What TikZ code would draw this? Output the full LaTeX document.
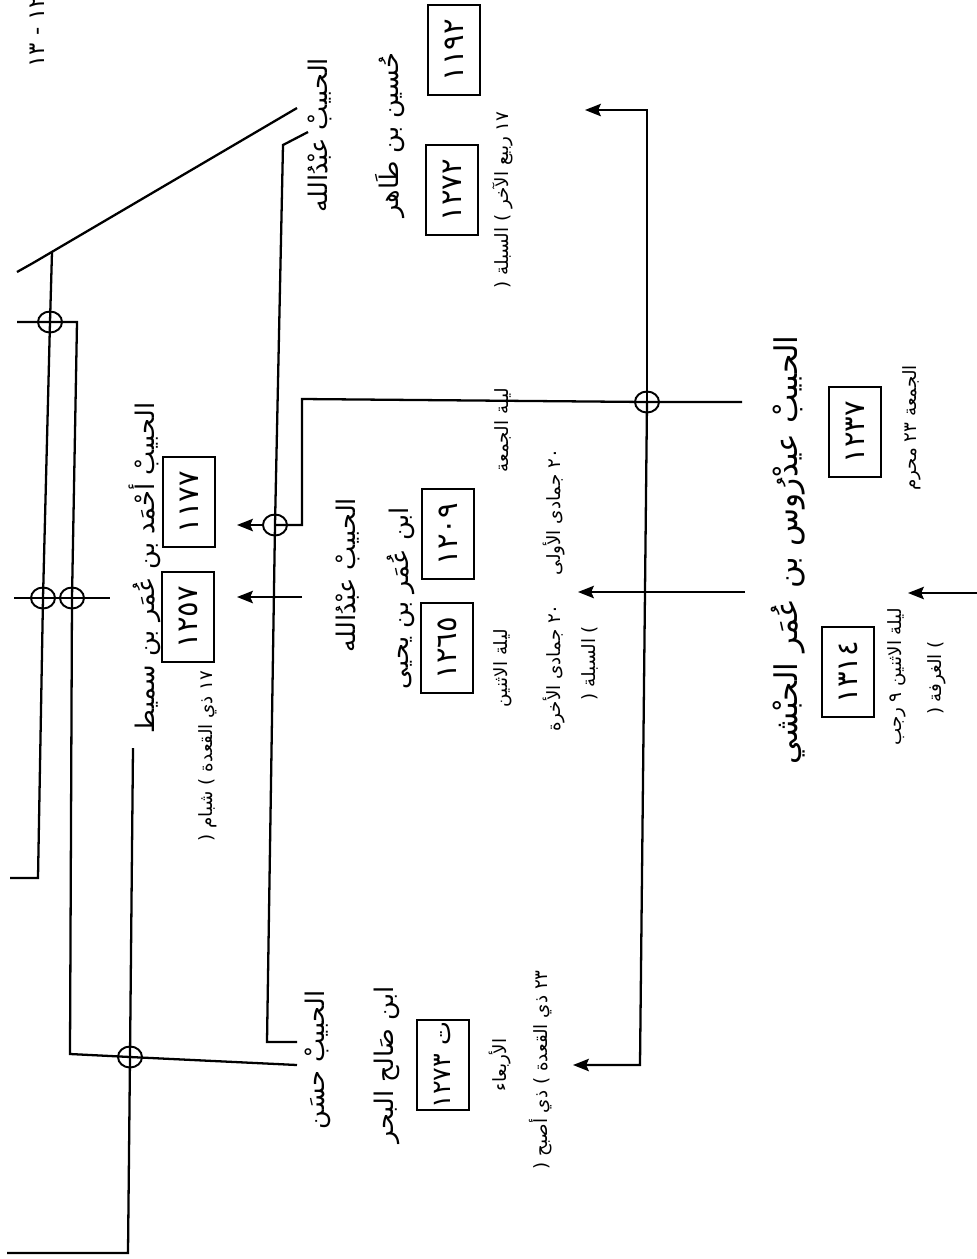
\documentclass[tikz,border=0pt]{standalone}
\usepackage{fontspec}
\newfontfamily\arabicfont[Script=Arabic]{DejaVu Sans}
\TeXXeTstate=1
\usetikzlibrary{arrows.meta,shapes.geometric}

\begin{document}
\begin{tikzpicture}[
    x=0.02cm, y=-0.02cm,
    tree/.style={line width=1.3pt, line join=miter},
    arrow/.style={tree, -{Stealth[length=9pt, width=7pt, inset=1.5pt]}},
    junc/.style={ellipse, draw, line width=1.1pt, minimum width=0.48cm,
                 minimum height=0.42cm, inner sep=0pt},
    person/.style={rotate=90, inner sep=0pt,
                 font=\arabicfont\fontsize{14.6}{16}\selectfont},
    bigperson/.style={rotate=90, inner sep=0pt,
                 font=\arabicfont\fontsize{17.8}{20}\selectfont},
    datelbl/.style={rotate=90, inner sep=0pt,
                 font=\arabicfont\fontsize{10.4}{12}\selectfont},
    yearbox/.style={rotate=90, draw, line width=1.3pt, minimum width=1.8cm,
                 minimum height=1.04cm, inner sep=0pt,
                 font=\arabicfont\fontsize{16.5}{18}\selectfont}
  ]
  \useasboundingbox (0,0) rectangle (977,1259);

  % ----- page mark -----
  \node[datelbl, anchor=west, font=\arabicfont\fontsize{13}{14}\selectfont]
    (page) at (37,68) {\beginR ١٢ - ١٣\endR};

  % ----- junctions -----
  \node[junc] (j1) at (50,322) {};
  \node[junc] (j2) at (43,598) {};
  \node[junc] (j3) at (72,598) {};
  \node[junc] (j4) at (275,525) {};
  \node[junc] (j5) at (647,402) {};
  \node[junc] (j6) at (130,1057) {};

  % ----- root line and left trunks -----
  \coordinate (dg0) at (17,272);
  \coordinate (dg1) at (33,263);
  \coordinate (dg2) at (297,108);
  \coordinate (aT)  at (52,252);
  \coordinate (aB)  at (38,878);
  \coordinate (aL)  at (10,878);
  \coordinate (h1L) at (17,322);
  \coordinate (bT)  at (77,322);
  \coordinate (bB)  at (70,1054);
  \coordinate (h2L) at (14,598);
  \coordinate (h2R) at (110,598);
  \coordinate (cT)  at (133,748);
  \coordinate (cB)  at (128,1253);
  \coordinate (cL)  at (7,1253);
  \coordinate (hasanA) at (297,1065);
  \draw[tree] (dg0) -- (dg1) -- (dg2);
  \draw[tree] (aT) -- (j1.center) -- (j2.center) -- (aB) -- (aL);
  \draw[tree] (h1L) -- (j1.center) -- (bT) -- (j3.center) -- (bB) -- (j6.center);
  \draw[tree] (h2L) -- (j2.center) -- (j3.center) -- (h2R);
  \draw[tree] (cT) -- (j6.center) -- (cB) -- (cL);
  \draw[tree] (j6.center) -- (hasanA);

  % ----- middle trunk -----
  \coordinate (dT) at (308,132);
  \coordinate (dK) at (283,145);
  \coordinate (dB) at (267,1042);
  \coordinate (hasanB) at (297,1042);
  \coordinate (eK) at (302,525);
  \coordinate (eT) at (302,399);
  \coordinate (eR) at (742,402);
  \coordinate (ahmadTip) at (237,525);
  \coordinate (sT) at (302,597);
  \coordinate (sTip) at (237,597);
  \draw[tree] (dT) -- (dK) -- (j4.center) -- (dB) -- (hasanB);
  \draw[tree] (j4.center) -- (eK) -- (eT) -- (j5.center) -- (eR);
  \draw[arrow] (j4.west) -- (ahmadTip);
  \draw[arrow] (sT) -- (sTip);

  % ----- right trunk -----
  \coordinate (fT) at (647,110);
  \coordinate (fTip) at (585,110);
  \coordinate (fB) at (640,1065);
  \coordinate (fBTip) at (573,1065);
  \coordinate (gR) at (745,592);
  \coordinate (gTip) at (578,592);
  \coordinate (kR) at (977,593);
  \coordinate (kTip) at (908,593);
  \draw[arrow] (j5.center) -- (fT) -- (fTip);
  \draw[arrow] (j5.center) -- (fB) -- (fBTip);
  \draw[arrow] (gR) -- (gTip);
  \draw[arrow] (kR) -- (kTip);

  % ----- names, years, dates -----
  \node[person] (abdA) at (320,135) {\beginR الحبيبْ عبْدُالله\endR};
  \node[person] (husain) at (390,135) {\beginR حُسين بن طَاهر\endR};
  \node[yearbox] (y1192) at (454,50) {١١٩٢};
  \node[yearbox] (y1272) at (452,190) {١٢٧٢};
  \node[datelbl] (husainD) at (503,200) {\beginR ١٧ ربيع الآخر ) السبلة (\endR};

  \node[person] (ahmad) at (145,568) {\beginR الحبيبْ أحْمَد بن عُمَر بن سميط\endR};
  \node[yearbox] (y1177) at (189,502) {١١٧٧};
  \node[yearbox] (y1257) at (188,617) {١٢٥٧};
  \node[datelbl] (ahmadD) at (208,756) {\beginR ١٧ ذي القعدة ) شبام (\endR};

  \node[person] (abdB) at (348,575) {\beginR الحبيبْ عبْدُالله\endR};
  \node[person] (abdBb) at (401,598) {\beginR ابن عُمَر بن يحيى\endR};
  \node[yearbox] (y1209) at (448,534) {١٢٠٩};
  \node[yearbox] (y1265) at (447,648) {١٢٦٥};
  \node[datelbl] (abdBd1) at (503,430) {\beginR ليلة الجمعة\endR};
  \node[datelbl] (abdBd2) at (554,512) {\beginR ٢٠ جمادى الأولى\endR};
  \node[datelbl] (abdBd3) at (503,668) {\beginR ليلة الاثنين\endR};
  \node[datelbl] (abdBd4) at (554,668) {\beginR ٢٠ جمادى الأخرة\endR};
  \node[datelbl] (abdBd5) at (590,663) {\beginR ) السبلة (\endR};

  \node[bigperson] (idrus) at (788,550) {\beginR الحبيبْ عيدْرُوس بن عُمَر الحبْشي\endR};
  \node[yearbox] (y1237) at (855,432) {١٢٣٧};
  \node[datelbl] (idrusD1) at (912,428) {\beginR الجمعة ٢٣ محرم\endR};
  \node[yearbox] (y1314) at (848,672) {١٣١٤};
  \node[datelbl] (idrusD2) at (897,677) {\beginR ليلة الاثنين ٩ رجب\endR};
  \node[datelbl] (idrusD3) at (937,678) {\beginR ) الغرفة (\endR};

  \node[person] (hasan) at (318,1060) {\beginR الحبيبْ حسَن\endR};
  \node[person] (hasanb) at (387,1065) {\beginR ابن صَالح البحر\endR};
  \node[yearbox, font=\arabicfont\fontsize{14.5}{16}\selectfont]
    (y1273) at (443,1065) {\beginR ت ١٢٧٣\endR};
  \node[datelbl] (hasanD1) at (500,1065) {\beginR الأربعاء\endR};
  \node[datelbl] (hasanD2) at (541,1070) {\beginR ٢٣ ذي القعدة ) ذي أصبح (\endR};
\end{tikzpicture}
\end{document}
